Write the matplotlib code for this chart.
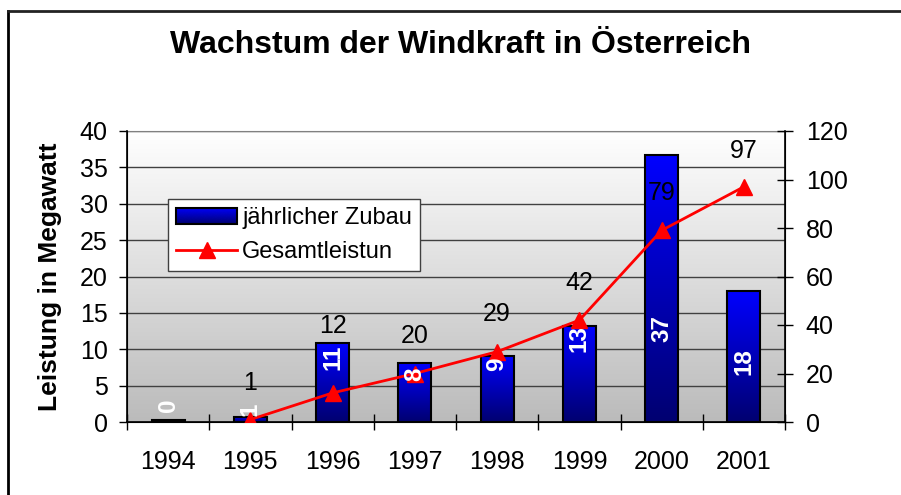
import numpy as np
import matplotlib
matplotlib.use("Agg")
import matplotlib.pyplot as plt
from matplotlib.patches import Rectangle
from matplotlib.lines import Line2D
from matplotlib.legend_handler import HandlerBase
from matplotlib.image import BboxImage
from matplotlib.transforms import Bbox, TransformedBbox
from matplotlib.colors import LinearSegmentedColormap

plt.rcParams['font.family'] = ['Liberation Sans', 'DejaVu Sans']

# data
years = ["1994", "1995", "1996", "1997", "1998", "1999", "2000", "2001"]
zubau = [0.3, 0.7, 10.9, 8.1, 9.1, 13.2, 36.7, 18.0]          # MW per year
gesamt_years = ["1995", "1996", "1997", "1998", "1999", "2000", "2001"]
gesamt = [1, 12, 20, 29, 42, 79, 97]                          # cumulative MW
# where the white value labels sit inside the bars (left axis units)
zubau_label_y = [2.25, 1.8, 8.9, 6.5, 8.0, 11.5, 12.85, 8.25]
# label offsets above the line points (points); the 1996 one was moved up
gesamt_label_dy = [26, 48, 27, 27, 27, 27, 26]

blue_cmap = LinearSegmentedColormap.from_list("bluegrad", ["#000070", "#0000ff"])
grey_cmap = LinearSegmentedColormap.from_list("greygrad", ["#bbbbbb", "#ffffff"])
grad = np.linspace(0, 1, 256).reshape(-1, 1)


class GradientHandler(HandlerBase):
    def create_artists(self, legend, orig_handle, xdescent, ydescent,
                       width, height, fontsize, trans):
        bb = TransformedBbox(Bbox.from_bounds(-xdescent, -ydescent, width, height), trans)
        img = BboxImage(bb, cmap=blue_cmap, interpolation='bicubic', origin='lower')
        img.set_data(grad)
        rect = Rectangle((-xdescent, -ydescent), width, height, fc='none',
                         ec='black', lw=1.5, transform=trans)
        return [img, rect]


fig = plt.figure(figsize=(9.01, 4.95), dpi=100)
ax = fig.add_axes([127/901, 1-422/495, (785-127)/901, (422-131)/495])

# plot area background
ax.imshow(grad, cmap=grey_cmap, origin='lower', aspect='auto',
          extent=[0, 1, 0, 1], transform=ax.transAxes, zorder=0)

x = np.arange(len(years))
bars = ax.bar(x, zubau, width=0.4, color='none', edgecolor='black', lw=1.5, zorder=3)
for b in bars:
    x0, y0 = b.get_x(), b.get_y()
    w, h = b.get_width(), b.get_height()
    ax.imshow(grad, cmap=blue_cmap, origin='lower', aspect='auto',
              extent=[x0, x0 + w, y0, y0 + h], zorder=2)

ax.set_xlim(-0.5, len(years) - 0.5)
ax.set_ylim(0, 40)
ax.set_yticks(range(0, 41, 5))
ax.yaxis.grid(True, color='#404040', lw=1)
ax.set_axisbelow(True)
ax.set_xticks(x)
ax.set_xticklabels(years)
ax.set_xticks(np.arange(-0.5, len(years)), minor=True)
ax.tick_params(axis='x', which='major', length=0, pad=20, labelsize=18)
ax.tick_params(axis='x', which='minor', direction='inout', length=12, width=1)
ax.tick_params(axis='y', direction='out', length=6, width=1, pad=8, labelsize=18)
ax.set_ylabel("Leistung in Megawatt", fontsize=19, fontweight='bold')
ax.yaxis.set_label_coords(-0.099, 0.5)
ax.spines['top'].set_color('#808080')
for s in ['left', 'bottom']:
    ax.spines[s].set_linewidth(1.2)

ax2 = ax.twinx()
ax2.set_ylim(0, 120)
ax2.set_yticks(range(0, 121, 20))
ax2.tick_params(axis='y', direction='inout', length=12, width=1, pad=9, labelsize=18)
ax2.spines['top'].set_visible(False)
ax2.spines['right'].set_linewidth(1.2)
gx = [years.index(y) for y in gesamt_years]
ax2.plot(gx, gesamt, color='red', lw=2, marker='^', markersize=11, zorder=5)
for xi, v, dy in zip(gx, gesamt, gesamt_label_dy):
    ax2.annotate(f"{v}", (xi, v), xytext=(0, dy), textcoords='offset points',
                 ha='center', va='center', fontsize=18, zorder=7)

# bar value labels on top of everything
for xi, v, ly in zip(x, zubau, zubau_label_y):
    ax2.text(xi, ly, f"{v:.0f}", rotation=90, ha='center', va='center',
             color='white', fontsize=17.5, fontweight='bold', zorder=6,
             transform=ax.transData)

handles = [Rectangle((0, 0), 1, 1),
           Line2D([], [], color='red', lw=2, marker='^', markersize=11)]
leg = ax2.legend(handles, ["jährlicher Zubau", "Gesamtleistun"],
                 handler_map={Rectangle: GradientHandler()},
                 loc='upper left', bbox_to_anchor=(0.062, 0.766), borderaxespad=0,
                 fontsize=17, fancybox=False, framealpha=1, edgecolor='#404040',
                 handlelength=2.6, handletextpad=0.2, labelspacing=0.5,
                 borderpad=0.35)
leg.get_frame().set_linewidth(1)

fig.suptitle("Wachstum der Windkraft in Österreich", x=460/901, y=1-45/495,
             va='center', fontsize=23, fontweight='bold')

# outer chart frame
fig.add_artist(Line2D([8/901, 8/901], [0, 1-11/495], color='black', lw=2,
                      transform=fig.transFigure))
fig.add_artist(Line2D([8/901, 1], [1-11/495, 1-11/495], color='#222222', lw=2,
                      transform=fig.transFigure))

fig.savefig("out.png", dpi=100)
